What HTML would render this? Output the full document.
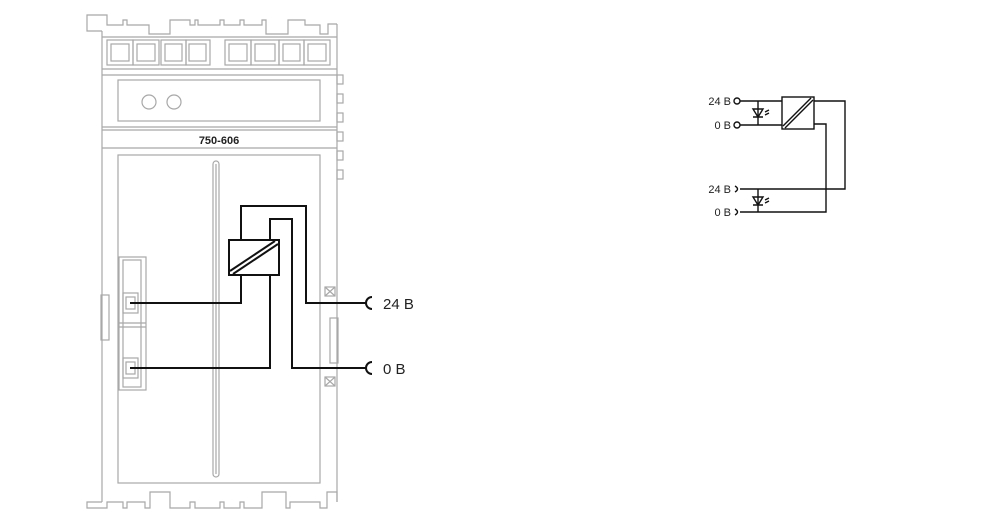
<!DOCTYPE html>
<html><head><meta charset="utf-8"><style>
html,body{margin:0;padding:0;background:#fff;}
svg{display:block;}
text{font-family:"Liberation Sans",sans-serif;}
</style></head><body>
<svg width="1000" height="526" viewBox="0 0 1000 526" xmlns="http://www.w3.org/2000/svg">
<g fill="none" stroke="#a8a8a8" stroke-width="1.2">
<path d="M102,31 H87 V15 H107 V25 H123 V20 H127 V25 H149 V34 H170 V20 H190 V25 H195 V20 H198 V25 H220 V20 H224 V25 H240 V20 H244 V25 H262 V20 H266 V34 H288 V20 H305 V25 H320 V34 H328 V24 H337"/>
<line x1="102" y1="31" x2="102" y2="502"/>
<line x1="337" y1="24" x2="337" y2="502"/>
<path d="M102,502 H87 V508 H107 V502 H123 V508 H127 V502 H145 V508 H150 V492 H170 V508 H190 V502 H195 V508 H220 V502 H224 V508 H240 V502 H244 V508 H262 V492 H286 V508 H290 V502 H320 V508 H327 V492 H337 V502"/>
<line x1="102" y1="37" x2="337" y2="37"/>
<line x1="102" y1="69" x2="337" y2="69"/>
<line x1="102" y1="75" x2="337" y2="75"/>
<line x1="102" y1="127" x2="337" y2="127"/>
<line x1="102" y1="130" x2="337" y2="130"/>
<line x1="102" y1="148" x2="337" y2="148"/>
<g>
<rect x="107" y="40" width="26" height="25"/><rect x="111" y="44" width="18" height="17"/>
<rect x="133" y="40" width="26" height="25"/><rect x="137" y="44" width="18" height="17"/>
<rect x="161" y="40" width="25" height="25"/><rect x="165" y="44" width="17" height="17"/>
<rect x="186" y="40" width="24" height="25"/><rect x="189" y="44" width="17" height="17"/>
<rect x="225" y="40" width="26" height="25"/><rect x="229" y="44" width="18" height="17"/>
<rect x="251" y="40" width="28" height="25"/><rect x="255" y="44" width="20" height="17"/>
<rect x="279" y="40" width="25" height="25"/><rect x="283" y="44" width="17" height="17"/>
<rect x="304" y="40" width="26" height="25"/><rect x="308" y="44" width="18" height="17"/>
</g>
<rect x="118" y="80" width="202" height="41"/>
<circle cx="149" cy="102" r="7"/>
<circle cx="174" cy="102" r="7"/>
<rect x="337" y="75" width="6" height="9"/>
<rect x="337" y="94" width="6" height="9"/>
<rect x="337" y="113" width="6" height="9"/>
<rect x="337" y="132" width="6" height="9"/>
<rect x="337" y="151" width="6" height="9"/>
<rect x="337" y="170" width="6" height="9"/>
<rect x="118" y="155" width="202" height="328"/>
<rect x="213" y="161" width="6" height="316" rx="3"/>
<line x1="216" y1="164" x2="216" y2="474"/>
<rect x="119" y="257" width="27" height="133"/>
<rect x="123" y="260" width="18" height="127"/>
<rect x="123" y="293" width="15" height="20"/><rect x="126" y="297" width="9" height="12"/>
<rect x="123" y="358" width="15" height="20"/><rect x="126" y="362" width="9" height="12"/>
<line x1="119" y1="323" x2="146" y2="323"/><line x1="119" y1="327" x2="146" y2="327"/>
<rect x="101" y="295" width="8" height="45"/>
<rect x="325" y="287" width="10" height="9"/><path d="M325,287 L335,296 M335,287 L325,296"/>
<rect x="325" y="377" width="10" height="9"/><path d="M325,377 L335,386 M335,377 L325,386"/>
<rect x="330" y="318" width="8" height="45"/>
</g>
<g fill="none" stroke="#111" stroke-width="2">
<rect x="229" y="240" width="50" height="35"/>
<line x1="230" y1="271" x2="275" y2="241"/>
<line x1="233" y1="274" x2="278" y2="244"/>
<path d="M241,240 V206 H306 V303 H367"/>
<path d="M270,240 V219 H292 V368 H367"/>
<path d="M241,275 V303 H130"/>
<path d="M270,275 V368 H130"/>
<path d="M372,297 A6,6 0 0 0 372,309"/>
<path d="M372,362 A6,6 0 0 0 372,374"/>
</g>
<text x="383" y="309" font-size="15" fill="#222">24 B</text>
<text x="383" y="374" font-size="15" fill="#222">0 B</text>
<text x="219" y="144" font-size="11" font-weight="bold" fill="#222" text-anchor="middle">750-606</text>
<g fill="none" stroke="#111" stroke-width="1.4">
<circle cx="737" cy="101" r="3"/>
<circle cx="737" cy="125" r="3"/>
<path d="M740,101 H782"/>
<path d="M740,125 H782"/>
<rect x="782" y="97" width="32" height="32"/>
<line x1="783" y1="126" x2="811" y2="98"/>
<line x1="785" y1="128" x2="813" y2="100"/>
<path d="M814,101 H845 V189 H740"/>
<path d="M814,124 H826 V212 H740"/>
<line x1="758" y1="101" x2="758" y2="125"/>
<line x1="758" y1="189" x2="758" y2="212"/>
<path d="M753,109 H763 L758,117 Z M753,117 H763"/>
<path d="M753,197 H763 L758,205 Z M753,205 H763"/>
<path d="M765,112 l4,-2 M765,115 l4,-2"/>
<path d="M765,200 l4,-2 M765,203 l4,-2"/>
<path d="M735,186 Q740,189 735,192"/>
<path d="M735,209 Q740,212 735,215"/>
</g>
<g font-size="11" fill="#222" text-anchor="end">
<text x="731" y="105">24 B</text>
<text x="731" y="129">0 B</text>
<text x="731" y="193">24 B</text>
<text x="731" y="216">0 B</text>
</g>
</svg>
</body></html>
